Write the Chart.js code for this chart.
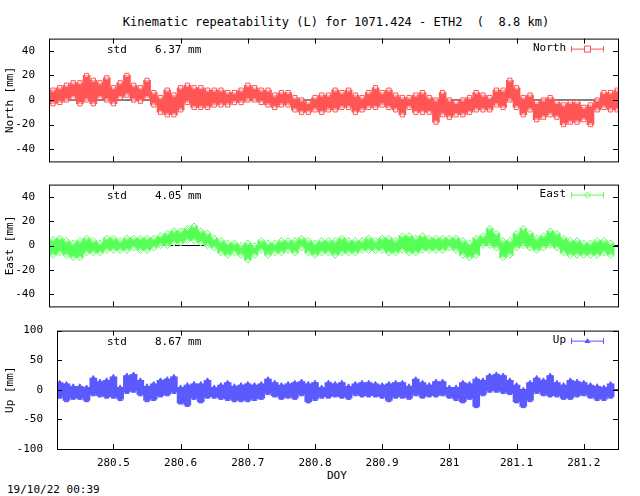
<!DOCTYPE html>
<html><head><meta charset="utf-8">
<script src="https://cdn.jsdelivr.net/npm/chart.js@4"></script>
<style>
body{margin:0;width:640px;height:496px;background:#fff;position:relative;overflow:hidden;font-family:"DejaVu Sans Mono",monospace;}
canvas{position:absolute;left:0;}
.t{position:absolute;font-size:11px;color:#000;white-space:pre;}
</style></head><body>
<div class="t" style="left:0;width:640px;text-align:center;top:15px;padding-left:32px;box-sizing:border-box;font-size:12px">Kinematic repeatability (L) for 1071.424 - ETH2  (  8.8 km)</div>
<div class="t" style="left:327px;top:469px">DOY</div>
<div class="t" style="left:7px;top:483px">19/10/22 00:39</div>
<div style="position:absolute;left:0;top:26px;width:640px;height:148px"><canvas id="c1"></canvas></div>
<div style="position:absolute;left:0;top:172px;width:640px;height:147px"><canvas id="c2"></canvas></div>
<div style="position:absolute;left:0;top:318px;width:640px;height:156px"><canvas id="c3"></canvas></div>
<script>
const doy=[280.41,280.42,280.43,280.44,280.45,280.46,280.47,280.48,280.49,280.50,280.51,280.52,280.53,280.54,280.55,280.56,280.57,280.58,280.59,280.60,280.61,280.62,280.63,280.64,280.65,280.66,280.67,280.68,280.69,280.70,280.71,280.72,280.73,280.74,280.75,280.76,280.77,280.78,280.79,280.80,280.81,280.82,280.83,280.84,280.85,280.86,280.87,280.88,280.89,280.90,280.91,280.92,280.93,280.94,280.95,280.96,280.97,280.98,280.99,281.00,281.01,281.02,281.03,281.04,281.05,281.06,281.07,281.08,281.09,281.10,281.11,281.12,281.13,281.14,281.15,281.16,281.17,281.18,281.19,281.20,281.21,281.22,281.23,281.24,281.25];
const northHi=[8,10,12,14,14,20,16,14,18,10,14,20,12,10,16,6,2,8,4,10,12,10,10,8,8,8,6,6,8,12,10,8,8,4,6,6,2,0,-2,2,4,4,8,6,8,4,2,6,10,6,8,4,2,2,4,6,2,0,6,0,-2,0,2,6,4,2,8,8,16,10,2,4,-2,0,2,-2,-4,-2,-2,-6,-4,0,6,6,8];
const northLo=[-3,-2,0,2,-3,0,-3,2,0,-3,2,4,0,-1,2,-4,-10,-12,-12,-8,-2,-6,-6,-6,-4,-4,-4,-2,-2,0,0,-2,-4,-6,-4,-4,-8,-10,-10,-8,-10,-8,-8,-6,-6,-10,-8,-6,-6,-4,-6,-8,-12,-6,-10,-10,-10,-18,-12,-14,-12,-12,-10,-8,-8,-8,-4,-6,0,-6,-12,-8,-16,-14,-12,-14,-20,-18,-18,-16,-20,-8,-6,-8,-8];
const eastHi=[5,6,4,2,4,6,4,2,6,6,4,6,6,6,6,6,8,10,12,12,14,16,12,10,6,4,2,2,0,2,0,4,2,2,4,4,4,6,4,2,4,4,4,6,4,4,4,6,4,6,6,4,8,8,6,8,6,6,6,6,6,4,2,6,8,14,10,4,4,10,14,10,6,8,12,10,6,4,4,2,2,4,4,2];
const eastLo=[-8,-6,-8,-10,-10,-6,-6,-6,-4,-4,-4,-4,-2,-4,-4,-2,0,0,2,2,4,4,2,0,-2,-6,-8,-6,-8,-12,-8,-4,-8,-6,-6,-4,-6,-2,-6,-8,-6,-6,-8,-6,-6,-6,-4,-4,-4,-4,-6,-6,-4,-6,-6,-4,-4,-4,-4,-2,-4,-8,-10,-8,0,0,-2,-10,-8,-2,0,-2,-4,-2,0,-2,-6,-8,-8,-8,-8,-8,-6,-8];
const upHi=[12,10,6,6,4,20,14,16,22,4,24,26,16,6,10,16,18,22,4,8,10,10,16,4,8,12,6,8,10,8,10,18,12,8,10,12,14,10,12,4,12,10,12,6,10,12,12,10,8,10,12,12,6,18,12,8,14,14,4,4,12,10,18,16,24,26,24,16,8,0,12,20,16,24,12,8,16,14,12,8,6,4,10];
const upLo=[-12,-18,-14,-14,-18,-8,-10,-12,-12,-16,-4,-2,-8,-18,-16,-10,-8,-4,-22,-26,-14,-20,-12,-12,-14,-16,-18,-18,-18,-16,-14,-6,-10,-14,-12,-14,-8,-20,-16,-12,-12,-10,-12,-14,-8,-10,-10,-10,-12,-18,-12,-12,-14,-8,-12,-10,-10,-8,-12,-16,-20,-14,-28,-8,-2,-2,-4,-6,-20,-28,-18,-4,-8,-10,-10,-14,-14,-10,-8,-12,-16,-16,-12];
const xTicks=[280.5,280.6,280.7,280.8,280.9,281.0,281.1,281.2];
const F='"DejaVu Sans Mono", monospace';

function frame(){return {id:'frame',afterDraw(ch){
  const c=ch.ctx,a=ch.chartArea,o=ch.options.plugins.frame;
  c.save();c.strokeStyle='#000';c.lineWidth=1;
  c.strokeRect(a.left+0.5,a.top+0.5,a.right-a.left,a.bottom-a.top);
  const xs=ch.scales.x,ys=ch.scales.y;
  c.beginPath();
  xTicks.forEach(v=>{const p=Math.round(xs.getPixelForValue(v))+0.5;c.moveTo(p,a.top);c.lineTo(p,a.top+5);c.moveTo(p,a.bottom);c.lineTo(p,a.bottom-5);});
  o.yt.forEach(v=>{const p=Math.round(ys.getPixelForValue(v))+0.5;c.moveTo(a.left,p);c.lineTo(a.left+5,p);c.moveTo(a.right,p);c.lineTo(a.right-5,p);});
  c.stroke();
  c.fillStyle='#000';c.font='11px '+F;c.textBaseline='middle';
  c.textAlign='left';c.fillText('std',107,a.top+12);c.fillText(o.std,155,a.top+12);
  c.textAlign='right';c.fillText(o.name,a.right-52,a.top+10);
  const y=a.top+10.5,x1=a.right-47,x2=a.right-14;
  c.strokeStyle=o.color;c.beginPath();c.moveTo(x1,y);c.lineTo(x2,y);c.moveTo(x1+0.5,y-3);c.lineTo(x1+0.5,y+3);c.moveTo(x2-0.5,y-3);c.lineTo(x2-0.5,y+3);c.stroke();
  const m=(x1+x2)/2;
  if(o.style==='rect'){c.fillStyle='#fff';c.fillRect(m-3,y-3,6,6);c.strokeRect(m-3,y-3,6,6);}
  else if(o.style==='rectRot'){c.beginPath();c.moveTo(m,y-3);c.lineTo(m+3,y);c.lineTo(m,y+3);c.lineTo(m-3,y);c.closePath();c.stroke();}
  else {c.fillStyle=o.color;c.beginPath();c.moveTo(m,y-3);c.lineTo(m+3,y+2);c.lineTo(m-3,y+2);c.closePath();c.fill();}
  c.restore();}};}

function make(id,xs,hi,lo,color,style,name,std,ymin,ymax,yt,title,left,showX,xmin){
  const bars=xs.map((x,i)=>({x:x,y:[lo[i],hi[i]]}));
  const his=xs.map((x,i)=>({x:x,y:hi[i]}));
  const los=xs.map((x,i)=>({x:x,y:lo[i]}));
  const ptBg=style==='triangle'?color:'rgba(255,255,255,0.5)';
  new Chart(document.getElementById(id),{
    data:{datasets:[
      {type:'line',data:[{x:280.3,y:0},{x:281.3,y:0}],borderColor:'#000',borderWidth:1,pointRadius:0,order:3},
      {type:'bar',data:bars,backgroundColor:color,barThickness:7,grouped:false,order:2},
      {type:'scatter',data:his,pointStyle:style,pointRadius:style==='triangle'?2.5:3,borderWidth:1,borderColor:color,backgroundColor:ptBg,order:1},
      {type:'scatter',data:los,pointStyle:style,pointRadius:style==='triangle'?2.5:3,borderWidth:1,borderColor:color,backgroundColor:ptBg,order:1}
    ]},
    options:{responsive:true,maintainAspectRatio:false,animation:false,
      layout:{autoPadding:false,padding:{right:22,top:0,bottom:0,left:0}},
      plugins:{legend:{display:false},tooltip:{enabled:false},
        frame:{yt:yt,std:std,name:name,color:color,style:style}},
      scales:{
        x:{type:'linear',offset:false,min:xmin,max:281.251,grid:{display:false,offset:false},border:{display:false},
          display:showX,afterBuildTicks(s){s.ticks=xTicks.map(v=>({value:v}));},
          ticks:{color:'#000',font:{family:F,size:11},padding:0,maxRotation:0,autoSkip:false,
            callback:v=>String(+(+v).toFixed(1))},
          afterFit(s){s.height=showX?25:0;}},
        y:{min:ymin,max:ymax,grid:{display:false},border:{display:false},
          afterBuildTicks(s){s.ticks=yt.map(v=>({value:v}));},
          ticks:{color:'#000',font:{family:F,size:11},padding:6},
          title:{display:true,text:title,color:'#000',font:{family:F,size:11},padding:{top:4,bottom:0}},
          afterFit(s){s.width=left;}}
      }},
    plugins:[frame()]});
}
make('c1',doy,northHi,northLo,'#ff5555','rect','North','6.37 mm',-50,50,[-40,-20,0,20,40],'North [mm]',49,false,280.404);
make('c2',doy.slice(0,84),eastHi,eastLo,'#55ff55','rectRot','East','4.05 mm',-50,50,[-40,-20,0,20,40],'East [mm]',49,false,280.404);
make('c3',doy.slice(1,84),upHi,upLo,'#5a5aff','triangle','Up','8.67 mm',-100,100,[-100,-50,0,50,100],'Up [mm]',57,true,280.416);
</script></body></html>
